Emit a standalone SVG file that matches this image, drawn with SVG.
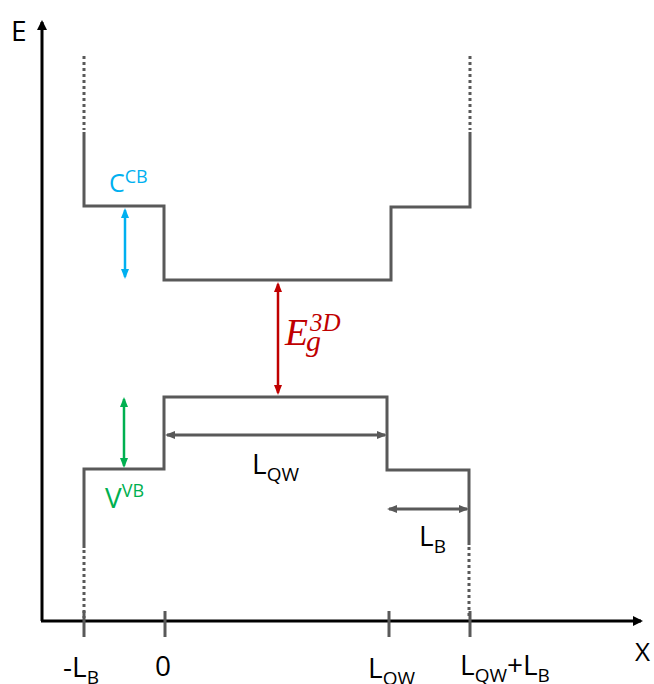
<svg xmlns="http://www.w3.org/2000/svg" width="654" height="684" viewBox="0 0 654 684">
<style>
.band{fill:none;stroke:#595959;stroke-width:3;stroke-linejoin:miter}
.dot{fill:none;stroke:#595959;stroke-width:3;stroke-dasharray:3 3}
.axis{fill:none;stroke:#000;stroke-width:3}
.tick{stroke:#595959;stroke-width:3}
.dim{stroke:#595959;stroke-width:3}
.lbl{font-family:"Open Sans","Noto Sans",sans-serif;font-size:28px;fill:#000}
.sub{font-size:19px}
</style>
<defs>
<marker id="ak" markerWidth="10" markerHeight="10" refX="8" refY="5" orient="auto-start-reverse" markerUnits="userSpaceOnUse"><path d="M0,0 L10,5 L0,10 Z" fill="#000"/></marker>
<marker id="ag" markerWidth="10" markerHeight="10" refX="8" refY="5" orient="auto-start-reverse" markerUnits="userSpaceOnUse"><path d="M0,1 L10,5 L0,9 Z" fill="#595959"/></marker>
<marker id="ab" markerWidth="10" markerHeight="10" refX="8" refY="5" orient="auto-start-reverse" markerUnits="userSpaceOnUse"><path d="M0,1 L10,5 L0,9 Z" fill="#00B0F0"/></marker>
<marker id="agr" markerWidth="10" markerHeight="10" refX="8" refY="5" orient="auto-start-reverse" markerUnits="userSpaceOnUse"><path d="M0,1 L10,5 L0,9 Z" fill="#00B050"/></marker>
<marker id="ar" markerWidth="10" markerHeight="10" refX="8" refY="5" orient="auto-start-reverse" markerUnits="userSpaceOnUse"><path d="M0,1 L10,5 L0,9 Z" fill="#C00000"/></marker>
</defs>

<g id="axes">
<path class="axis" d="M42,621 L42,22" marker-end="url(#ak)"/>
<path class="axis" d="M41,621 L641,621" marker-end="url(#ak)"/>
<text class="lbl" x="11" y="41" style="font-size:28px">E</text>
<text class="lbl" x="635" y="661" style="font-size:26px">X</text>
</g>

<g id="ticks">
<line class="tick" x1="84" y1="611" x2="84" y2="637"/>
<line class="tick" x1="165" y1="611" x2="165" y2="637"/>
<line class="tick" x1="389" y1="611" x2="389" y2="637"/>
<line class="tick" x1="470" y1="611" x2="470" y2="637"/>
<text class="lbl" x="63" y="677">-L<tspan class="sub" dy="7">B</tspan></text>
<text class="lbl" x="155" y="676">0</text>
<text class="lbl" x="368" y="678">L<tspan class="sub" dy="7">QW</tspan></text>
<text class="lbl" x="460" y="675">L<tspan class="sub" dy="7">QW</tspan><tspan dy="-7">+L</tspan><tspan class="sub" dy="7">B</tspan></text>
</g>

<g id="conduction-band">
<path class="dot" d="M84,56 L84,130"/>
<path class="band" d="M84,132 L84,206 L164,206 L164,280 L391,280 L391,207 L470,207 L470,132"/>
<path class="dot" d="M470,56 L470,130"/>
</g>

<g id="valence-band">
<path class="band" d="M84,548 L84,469 L164,469 L164,397 L387,397 L387,470 L469,470 L469,545"/>
<path class="dot" d="M84,550 L84,618"/>
<path class="dot" d="M469,547 L469,618"/>
</g>

<g id="connectors">
<line x1="125" y1="210" x2="125" y2="277" stroke="#00B0F0" stroke-width="2.5" marker-start="url(#ab)" marker-end="url(#ab)"/>
<line x1="124" y1="399" x2="124" y2="466" stroke="#00B050" stroke-width="2.5" marker-start="url(#agr)" marker-end="url(#agr)"/>
<line x1="278" y1="284" x2="278" y2="393" stroke="#C00000" stroke-width="2.5" marker-start="url(#ar)" marker-end="url(#ar)"/>
<line class="dim" x1="167" y1="435" x2="385" y2="435" marker-start="url(#ag)" marker-end="url(#ag)"/>
<line class="dim" x1="389" y1="509" x2="467" y2="509" marker-start="url(#ag)" marker-end="url(#ag)"/>
</g>

<g id="labels">
<text class="lbl" x="109" y="192" style="fill:#00B0F0;font-size:25px">C<tspan style="font-size:18px" dy="-9">CB</tspan></text>
<text class="lbl" x="105" y="508" style="fill:#00B050;font-size:28px">V<tspan style="font-size:18px" dy="-11">VB</tspan></text>
<text class="lbl" x="252" y="474">L<tspan class="sub" dy="7">QW</tspan></text>
<text class="lbl" x="419" y="546">L<tspan class="sub" dy="7">B</tspan></text>
<g id="eg-label" font-family="'Liberation Serif','DejaVu Serif',serif" font-style="italic" fill="#C00000">
<text x="285" y="345" font-size="38" textLength="23" lengthAdjust="spacingAndGlyphs">E</text>
<text x="306" y="351" font-size="30">g</text>
<text x="310" y="331" font-size="25">3D</text>
</g>
</g>
</svg>
